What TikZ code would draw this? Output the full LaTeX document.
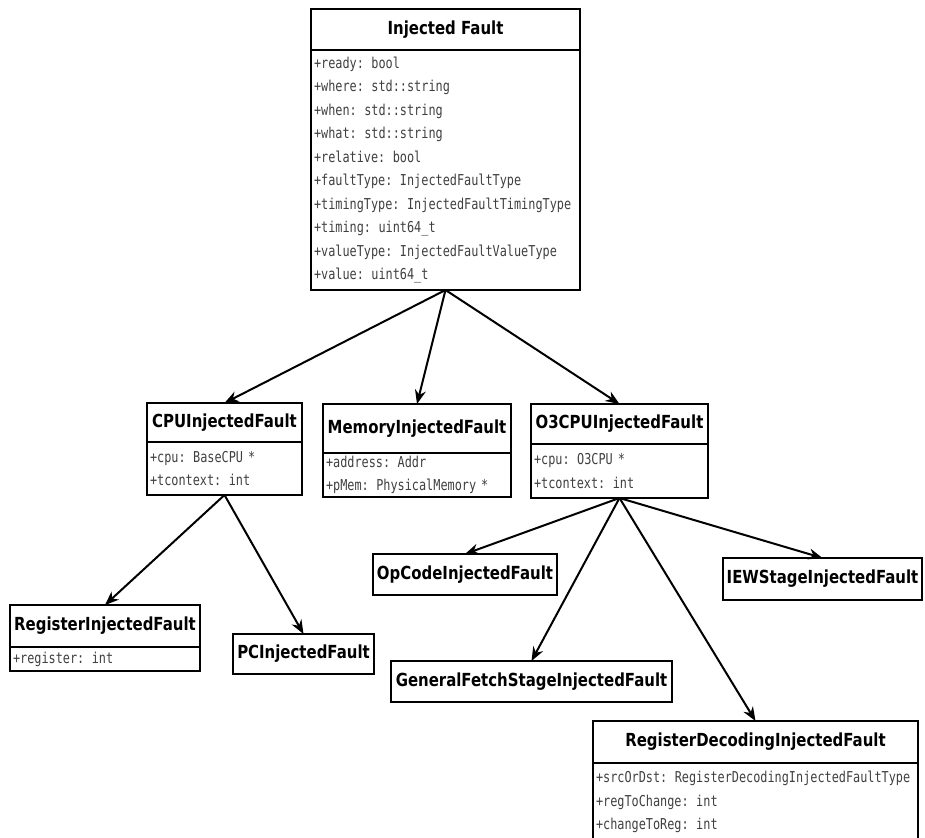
\documentclass[tikz,border=0pt]{standalone}
\usepackage{fontspec}
\usetikzlibrary{arrows.meta,positioning}
\newfontfamily\clsfont[FakeStretch=0.83]{DejaVu Sans}
\newfontfamily\fldfont[FakeStretch=0.79]{DejaVu Sans Mono}

\begin{document}
\begin{tikzpicture}[x=1pt, y=-1pt, >={Stealth[length=14pt,width=11pt]},
	   cls/.style={draw, line width=2.3pt, anchor=north west, inner sep=0pt, outer sep=0pt, align=center, font=\clsfont\bfseries\fontsize{18}{20}\selectfont},
	   fields/.style={draw, line width=2.3pt, anchor=north west, align=left, inner xsep=3pt, inner ysep=0pt, outer sep=0pt, text=black!75, font=\fldfont\fontsize{15}{23.5}\selectfont},
	   inh/.style={->, line width=2pt}]
	  \useasboundingbox (0,0) rectangle (925,837);
	  % base class
	  \node[cls, minimum width=269pt, minimum height=41pt] (inj) at (311,9) {Injected Fault};
	  \node[fields, text width=263pt, minimum height=240pt] (inj-f) at (inj.south west) {+ready: bool\\+where: std::string\\+when: std::string\\+what: std::string\\+relative: bool\\+faultType: InjectedFaultType\\+timingType: InjectedFaultTimingType\\+timing: uint64\_t\\+valueType: InjectedFaultValueType\\+value: uint64\_t};
	  % second level
	  \node[cls, minimum width=155pt, minimum height=39pt] (cpu) at (147,403) {CPUInjectedFault};
	  \node[fields, text width=149pt, minimum height=53pt] (cpu-f) at (cpu.south west) {+cpu: BaseCPU *\\+tcontext: int};
	  \node[cls, minimum width=188pt, minimum height=49pt] (mem) at (323,404) {MemoryInjectedFault};
	  \node[fields, text width=182pt, minimum height=44pt] (mem-f) at (mem.south west) {+address: Addr\\+pMem: PhysicalMemory *};
	  \node[cls, minimum width=177pt, minimum height=40pt] (o3) at (531,404) {O3CPUInjectedFault};
	  \node[fields, text width=171pt, minimum height=54pt] (o3-f) at (o3.south west) {+cpu: O3CPU *\\+tcontext: int};
	  % CPU faults
	  \node[cls, minimum width=190pt, minimum height=42pt] (reg) at (10,605) {RegisterInjectedFault};
	  \node[fields, text width=184pt, minimum height=24pt] (reg-f) at (reg.south west) {+register: int};
	  \node[cls, minimum width=141pt, minimum height=40pt] (pc) at (233,634) {PCInjectedFault};
	  % O3CPU faults
	  \node[cls, minimum width=184pt, minimum height=41pt] (opc) at (373,554) {OpCodeInjectedFault};
	  \node[cls, minimum width=199pt, minimum height=42pt] (iew) at (723,558) {IEWStageInjectedFault};
	  \node[cls, minimum width=281pt, minimum height=41pt] (gfs) at (391,661) {GeneralFetchStageInjectedFault};
	  \node[cls, minimum width=325pt, minimum height=42pt] (rdec) at (593,721) {RegisterDecodingInjectedFault};
	  \node[fields, text width=319pt, minimum height=78pt] (rdec-f) at (rdec.south west) {+srcOrDst: RegisterDecodingInjectedFaultType\\+regToChange: int\\+changeToReg: int};
	  % inheritance
	  \draw[inh] (inj-f.south) -- (cpu.north);
	  \draw[inh] (inj-f.south) -- (mem.north);
	  \draw[inh] (inj-f.south) -- (o3.north);
	  \draw[inh] (cpu-f.south) -- (reg.north);
	  \draw[inh] (cpu-f.south) -- (pc.north);
	  \draw[inh] (o3-f.south) -- (opc.north);
	  \draw[inh] (o3-f.south) -- (gfs.north);
	  \draw[inh] (o3-f.south) -- (rdec.north);
	  \draw[inh] (o3-f.south) -- (iew.north);
	\end{tikzpicture}
\end{document}
